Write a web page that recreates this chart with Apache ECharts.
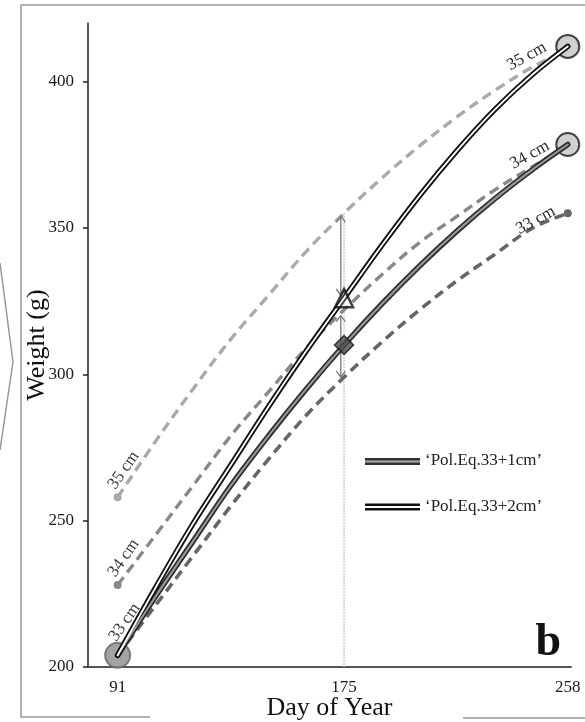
<!DOCTYPE html>
<html><head><meta charset="utf-8">
<script src="https://cdn.jsdelivr.net/npm/echarts@6/dist/echarts.min.js"></script>
<style>html,body{margin:0;padding:0;background:#fff}#c{width:585px;height:722px}</style>
</head><body><div id="c"></div>
<script>
// ---- data ----
const days = [91, 105, 119, 133, 147, 161, 175, 189, 203, 217, 231, 245, 258];
const w35 = [258, 277, 295, 312, 327, 342, 355, 367, 378, 388, 397, 405, 411];
const w34 = [228, 245, 262, 279, 294, 309, 322, 334, 345, 354, 363, 371, 378];
const w33 = [204, 221, 238, 255, 271, 286, 299, 311, 322, 332, 341, 350, 355];
const polPlus1 = [204, 224, 243, 262, 279, 295, 310, 324, 337, 349, 360, 370, 378.5];
const polPlus2 = [204, 227, 249, 269, 289, 308, 326, 344, 361, 376.5, 390.5, 402.5, 412];
const xTickLabels = [91, 175, 258];
const yTickLabels = [200, 250, 300, 350, 400];
const compareDay = 175;
const diamondPoint = [175, 310];
const trianglePoint = [175, 326];
const arrows = [[173.8, 354, 327], [173.8, 320, 299]];
const bigCircles = [[91, 204], [258, 412], [258, 378.5]];
const legendNames = ['\u2018Pol.Eq.33+1cm\u2019', '\u2018Pol.Eq.33+2cm\u2019'];
const curveNames = ['35 cm', '34 cm', '33 cm'];

const SERIF = "'Liberation Serif','Times New Roman',serif";
const pairs = ys => days.map((d, i) => [d, ys[i]]);

const chart = echarts.init(document.getElementById('c'), null, {renderer: 'canvas'});

function dashed(name, ys, color, width, dotStart, dotEnd) {
  const data = pairs(ys).map((p, i) => {
    const last = i === ys.length - 1;
    const show = (i === 0 && dotStart) || (last && dotEnd);
    return {value: p, symbol: show ? 'circle' : 'none', symbolSize: show ? 8 : 0};
  });
  return {
    name, type: 'line', data, smooth: 0.35, z: 2, silent: true,
    lineStyle: {color, width, type: [10, 6]},
    itemStyle: {color}, showSymbol: true
  };
}
function solid(ys, color, width, z) {
  return {type: 'line', data: pairs(ys), smooth: 0.35, symbol: 'none', z, silent: true,
    lineStyle: {color, width, cap: 'round'}};
}

const option = {
  animation: false,
  backgroundColor: '#fff',
  grid: {left: 88, right: 14, top: 23, bottom: 55, containLabel: false, outerBoundsMode: 'none'},
  xAxis: {
    type: 'value', min: 80, max: 259.2,
    name: 'Day of Year', nameLocation: 'middle', nameGap: 28, nameMoveOverlap: false,
    nameTextStyle: {fontFamily: SERIF, fontSize: 26, color: '#111'},
    axisLine: {show: true, lineStyle: {color: '#555', width: 2}},
    axisTick: {show: false},
    axisLabel: {customValues: xTickLabels, fontFamily: SERIF, fontSize: 17, color: '#1a1a1a', margin: 12},
    splitLine: {show: false}
  },
  yAxis: {
    type: 'value', min: 200, max: 420, interval: 50,
    name: 'Weight (g)', nameLocation: 'middle', nameGap: 38, nameRotate: 90, nameMoveOverlap: false,
    nameTextStyle: {fontFamily: SERIF, fontSize: 26, color: '#111'},
    axisLine: {show: true, lineStyle: {color: '#222', width: 1.5}},
    axisTick: {show: true, customValues: yTickLabels, length: 5, lineStyle: {color: '#222', width: 1.5}},
    axisLabel: {customValues: yTickLabels, fontFamily: SERIF, fontSize: 17, color: '#1a1a1a', margin: 14},
    splitLine: {show: false}
  },
  series: [
    {type: 'line', data: [[compareDay, w35[days.indexOf(compareDay)]], [compareDay, 200]], symbol: 'none', z: 1,
     lineStyle: {color: '#bbb', width: 1.5, type: 'dotted'}, silent: true},
    dashed('35 cm', w35, '#aaaaaa', 3.4, true, false),
    dashed('34 cm', w34, '#888888', 3.4, true, false),
    dashed('33 cm', w33, '#666', 3.6, false, true),
    {type: 'scatter', data: bigCircles.map((p, i) => ({value: p,
        symbolSize: i === 0 ? 25 : 23,
        itemStyle: i === 0 ? {color: '#8c8c8c', borderColor: '#666', borderWidth: 2}
                           : {color: '#c4c4c4', borderColor: '#1a1a1a', borderWidth: 2}})),
     symbol: 'circle', z: 3, silent: true},
    {type: 'custom', z: 3, silent: true, data: arrows, encode: {x: 0, y: [1, 2]},
     renderItem(params, api) {
       const x = api.value(0);
       const a = api.coord([x, api.value(1)]);
       const b = api.coord([x, api.value(2)]);
       const w = 4.5, h = 6, st = {stroke: '#777', lineWidth: 1.3, fill: 'none'};
       return {type: 'group', children: [
         {type: 'line', shape: {x1: a[0], y1: a[1], x2: b[0], y2: b[1]}, style: st},
         {type: 'polyline', shape: {points: [[a[0] - w, a[1] + h], [a[0], a[1]], [a[0] + w, a[1] + h]]}, style: st},
         {type: 'polyline', shape: {points: [[b[0] - w, b[1] - h], [b[0], b[1]], [b[0] + w, b[1] - h]]}, style: st}
       ]};
     }},
    solid(polPlus1, '#2e2e2e', 5.5, 4),
    solid(polPlus1, '#9a9a9a', 2, 5),
    solid(polPlus2, '#111', 5.5, 4),
    solid(polPlus2, '#fff', 1.8, 5),
    {type: 'scatter', z: 6, silent: true, data: [
      {value: trianglePoint, symbol: 'triangle', symbolSize: 18,
       itemStyle: {color: 'rgba(255,255,255,0.25)', borderColor: '#111', borderWidth: 2.5}},
      {value: diamondPoint, symbol: 'diamond', symbolSize: 19,
       itemStyle: {color: '#4a4a4a', borderColor: '#111', borderWidth: 1.5}}
    ]}
  ]
};
chart.setOption(option);

// ---- text labels & decorations placed via the chart's own scales ----
const series = [w35, w34, w33];
const startOff = [[6, -27], [6, -27], [7, -33]];
const endOff = [[-41, 7], [-38, 9], [-32, 7]];
const graphics = [];
series.forEach((ys, k) => {
  const s = chart.convertToPixel({gridIndex: 0}, [days[0], ys[0]]);
  const e = chart.convertToPixel({gridIndex: 0}, [days[days.length - 1], ys[ys.length - 1]]);
  graphics.push({type: 'text', x: s[0] + startOff[k][0], y: s[1] + startOff[k][1], rotation: 55 * Math.PI / 180, z: 10,
    style: {text: curveNames[k], font: '17px ' + SERIF, fill: '#3a3a3a', align: 'center', verticalAlign: 'middle'}});
  graphics.push({type: 'text', x: e[0] + endOff[k][0], y: e[1] + endOff[k][1], rotation: 29 * Math.PI / 180, z: 10,
    style: {text: curveNames[k], font: '17px ' + SERIF, fill: '#2a2a2a', align: 'center', verticalAlign: 'middle'}});
});
graphics.push(
  {type: 'rect', shape: {x: 365, y: 458, width: 55, height: 7}, style: {fill: '#333'}},
  {type: 'rect', shape: {x: 365, y: 460.5, width: 55, height: 2}, style: {fill: '#aaa'}},
  {type: 'text', x: 425, y: 461, style: {text: legendNames[0], font: '17px ' + SERIF, fill: '#222', verticalAlign: 'middle'}},
  {type: 'rect', shape: {x: 365, y: 503.5, width: 55, height: 7}, style: {fill: '#111'}},
  {type: 'rect', shape: {x: 365, y: 506, width: 55, height: 2}, style: {fill: '#fff'}},
  {type: 'text', x: 425, y: 507, style: {text: legendNames[1], font: '17px ' + SERIF, fill: '#222', verticalAlign: 'middle'}},
  {type: 'text', x: 561, y: 643, style: {text: 'b', font: 'bold 46px ' + SERIF, fill: '#111', align: 'right', verticalAlign: 'middle'}},
  {type: 'polyline', shape: {points: [[585, 5], [21, 5], [21, 717], [150, 717]]}, style: {stroke: '#999', lineWidth: 1.5, fill: 'none'}},
  {type: 'line', shape: {x1: 463, y1: 718, x2: 585, y2: 718}, style: {stroke: '#999', lineWidth: 1.5}},
  {type: 'polyline', shape: {points: [[0, 263], [13, 362], [0, 450]]}, style: {stroke: '#999', lineWidth: 1.5, fill: 'none'}}
);
chart.setOption({graphic: graphics});
</script>
</body></html>
